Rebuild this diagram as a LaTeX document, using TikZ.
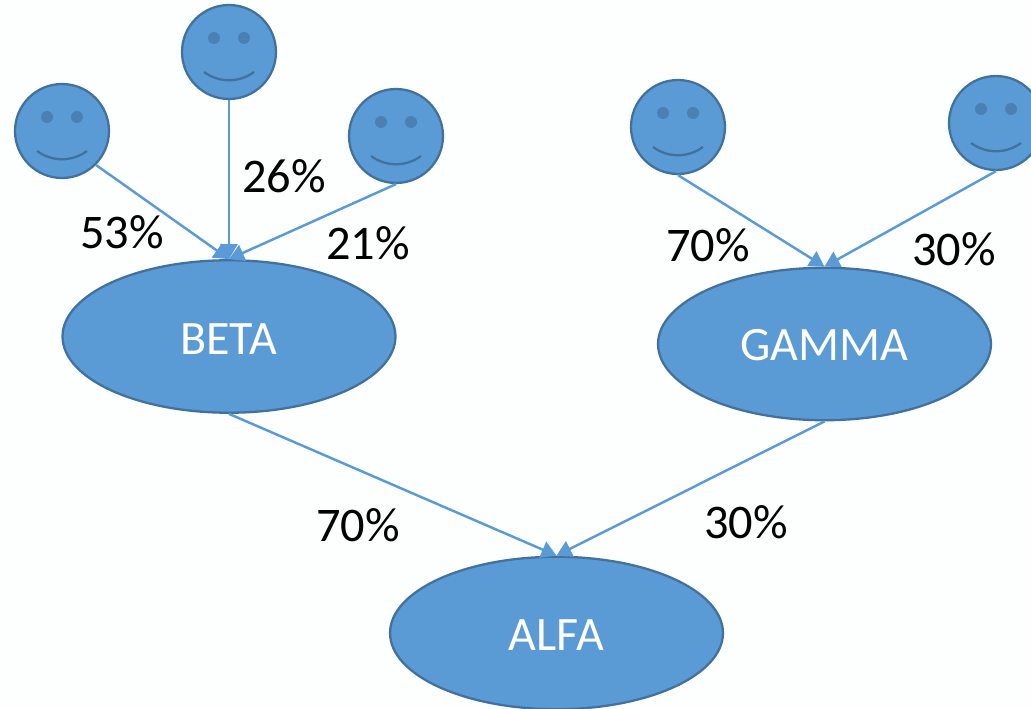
\documentclass[tikz,border=0pt]{standalone}
\usepackage{fontspec}
\setmainfont{Carlito}
\usetikzlibrary{shapes.geometric,arrows.meta}
\definecolor{shapeblue}{HTML}{5B9BD5}
\definecolor{edgeblue}{HTML}{41719C}
\definecolor{eyeblue}{HTML}{4A80B2}
\tikzset{
  face/.style={draw=edgeblue,fill=shapeblue,circle,line width=1.3pt,inner sep=0pt,minimum size=18.8mm},
  group/.style={draw=edgeblue,fill=shapeblue,ellipse,line width=1.3pt,inner sep=0pt,minimum width=66.6mm,minimum height=30.5mm},
  grouptext/.style={text=white,font=\fontsize{27.3}{30}\selectfont},
  share/.style={font=\fontsize{27.5}{30}\selectfont,inner sep=0pt},
  link/.style={->,>={Triangle[length=3mm,width=3.4mm]},shapeblue,line width=1.4pt}
}
\begin{document}
\begin{tikzpicture}[x=0.02cm,y=-0.02cm]
\useasboundingbox (0,0) rectangle (1031,709);
\fill[white!99!shapeblue] (0,0) rectangle (1031,709);
\node[face] (F0) at (62,131) {};
\node[face] (F1) at (229,52) {};
\node[face] (F2) at (396,136) {};
\node[face] (F3) at (678,127) {};
\node[face] (F4) at (996,123) {};
\foreach \f in {F0,F1,F2,F3,F4} {
  \fill[eyeblue] ([shift={(-15,-14)}]\f.center) circle (6);
  \fill[eyeblue] ([shift={(15,-14)}]\f.center) circle (6);
  \draw[edgeblue,line width=1.3pt] ([shift={(-25,20)}]\f.center) .. controls ([shift={(-10,31)}]\f.center) and ([shift={(10,31)}]\f.center) .. ([shift={(25,20)}]\f.center);
}
\node[group] (BETA) at (229,336.5) {};
\node[group] (GAMMA) at (824.5,344) {};
\node[group] (ALFA) at (556.5,633) {};
\node[grouptext] (TB) at (228.5,339) {BETA};
\node[grouptext] (TG) at (824,345) {GAMMA};
\node[grouptext] (TA) at (556.5,635) {ALFA};
\draw[link] (F0.-45) -- (BETA.north);
\draw[link] (F1.south) -- (BETA.north);
\draw[link] (F2.south) -- (BETA.north);
\draw[link] (F3.south) -- (GAMMA.north);
\draw[link] (F4.south) -- (GAMMA.north);
\draw[link] (BETA.south) -- (ALFA.north);
\draw[link] (GAMMA.south) -- (ALFA.north);
\node[share] (P0) at (122,232) {53\%};
\node[share] (P1) at (284,176) {26\%};
\node[share] (P2) at (368,243) {21\%};
\node[share] (P3) at (708,245) {70\%};
\node[share] (P4) at (954,249) {30\%};
\node[share] (P5) at (358,525) {70\%};
\node[share] (P6) at (746,522) {30\%};
\end{tikzpicture}
\end{document}
